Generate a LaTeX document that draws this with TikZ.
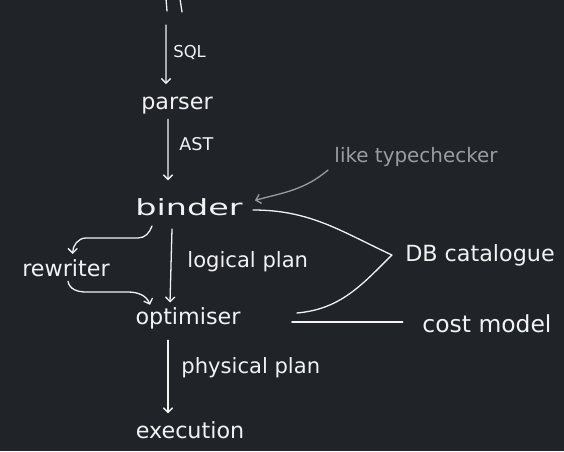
\documentclass[tikz,border=0pt]{standalone}
\usepackage{fontspec}
\setmainfont{DejaVu Sans}
\newfontfamily\widehand[FakeStretch=1.5]{DejaVu Sans}
\usetikzlibrary{arrows.meta}
\definecolor{QPBack}{HTML}{202428}
\definecolor{QPInk}{HTML}{F2F2F2}
\definecolor{QPGrey}{HTML}{9C9C9C}

\begin{document}
\begin{tikzpicture}[x=0.03cm,y=-0.03cm,
  stage/.style={text=QPInk,font=\fontsize{19}{22}\selectfont,inner sep=1pt},
  lbl/.style={text=QPInk,font=\fontsize{18}{21}\selectfont,anchor=west,inner sep=1pt},
  ink/.style={QPInk,line width=1.1pt,line cap=round},
  flow/.style={ink,-{Straight Barb[length=4pt,width=8pt]}}]
\fill[QPBack] (0,0) rectangle (564,451);
\path[use as bounding box] (0,0) rectangle (564,451);
% cut-off text at the top
\draw[ink] (166,-1) -- (167,11);
\draw[ink] (180,-1) -- (182,12);
\coordinate (input) at (166,25);
% stages
\node[stage] (parser) at (177,106) {parser};
\node[stage,font=\widehand\fontsize{19}{22}\selectfont] (binder) at (189,207) {binder};
\node[stage] (rewriter) at (66,268) {rewriter};
\node[stage] (optimiser) at (188,318) {optimiser};
\node[stage] (execution) at (190,430) {execution};
\node[stage] (catalogue) at (480,255) {DB catalogue};
\node[stage,font=\fontsize{20}{23}\selectfont] (costmodel) at (487,324) {cost model};
\node[stage,text=QPGrey,font=\fontsize{17}{20}\selectfont] (typecheck) at (416,157) {like typechecker};
% labels
\node[lbl,font=\fontsize{14}{17}\selectfont] (sqllbl) at (172,52) {SQL};
\node[lbl,font=\fontsize{15}{18}\selectfont] (astlbl) at (178,144) {AST};
\node[lbl] (logicallbl) at (186,262) {logical plan};
\node[lbl] (physicallbl) at (180,368) {physical plan};
% main flow
\draw[flow] (input) -- ([xshift=-0.33cm,yshift=0.36cm]parser.north);
\draw[flow] ([xshift=-0.27cm,yshift=-0.1cm]parser.south) -- ([xshift=-0.63cm,yshift=0.5cm]binder.north);
\draw[flow] ([xshift=-0.51cm,yshift=-0.36cm]binder.south) -- ([xshift=-0.54cm,yshift=0.1cm]optimiser.north);
\draw[flow] ([xshift=-0.6cm,yshift=-0.3cm]optimiser.south) -- ([xshift=-0.66cm,yshift=0.2cm]execution.north);
% rewriter loop
\draw[flow] ([xshift=-1.11cm,yshift=-0.27cm]binder.south) to[out=-110,in=0] (138,238)
  -- (86,238) to[out=180,in=90] ([xshift=0.2cm,yshift=0.12cm]rewriter.north);
\draw[flow] ([xshift=0.06cm,yshift=-0.1cm]rewriter.south) to[out=-80,in=180] (86,292)
  -- (128,292) to[out=0,in=110] ([xshift=-1.14cm,yshift=0.03cm]optimiser.north);
% catalogue and cost model
\draw[ink] ([xshift=0.27cm,yshift=-0.09cm]binder.east) to[out=0,in=155] ([xshift=-0.36cm]catalogue.west);
\draw[ink] ([xshift=1.65cm,yshift=0.15cm]optimiser.east) to[out=5,in=-135] ([xshift=-0.36cm]catalogue.west);
\draw[ink] ([xshift=1.5cm,yshift=-0.12cm]optimiser.east) -- ([xshift=-0.55cm,yshift=0.06cm]costmodel.west);
% note
\draw[QPGrey,line width=1.1pt,line cap=round,-{Straight Barb[length=4pt,width=8pt]}]
  ([xshift=-0.15cm,yshift=-0.39cm]typecheck.west) to[out=-140,in=15] ([xshift=0.33cm,yshift=0.2cm]binder.east);
\end{tikzpicture}
\end{document}
